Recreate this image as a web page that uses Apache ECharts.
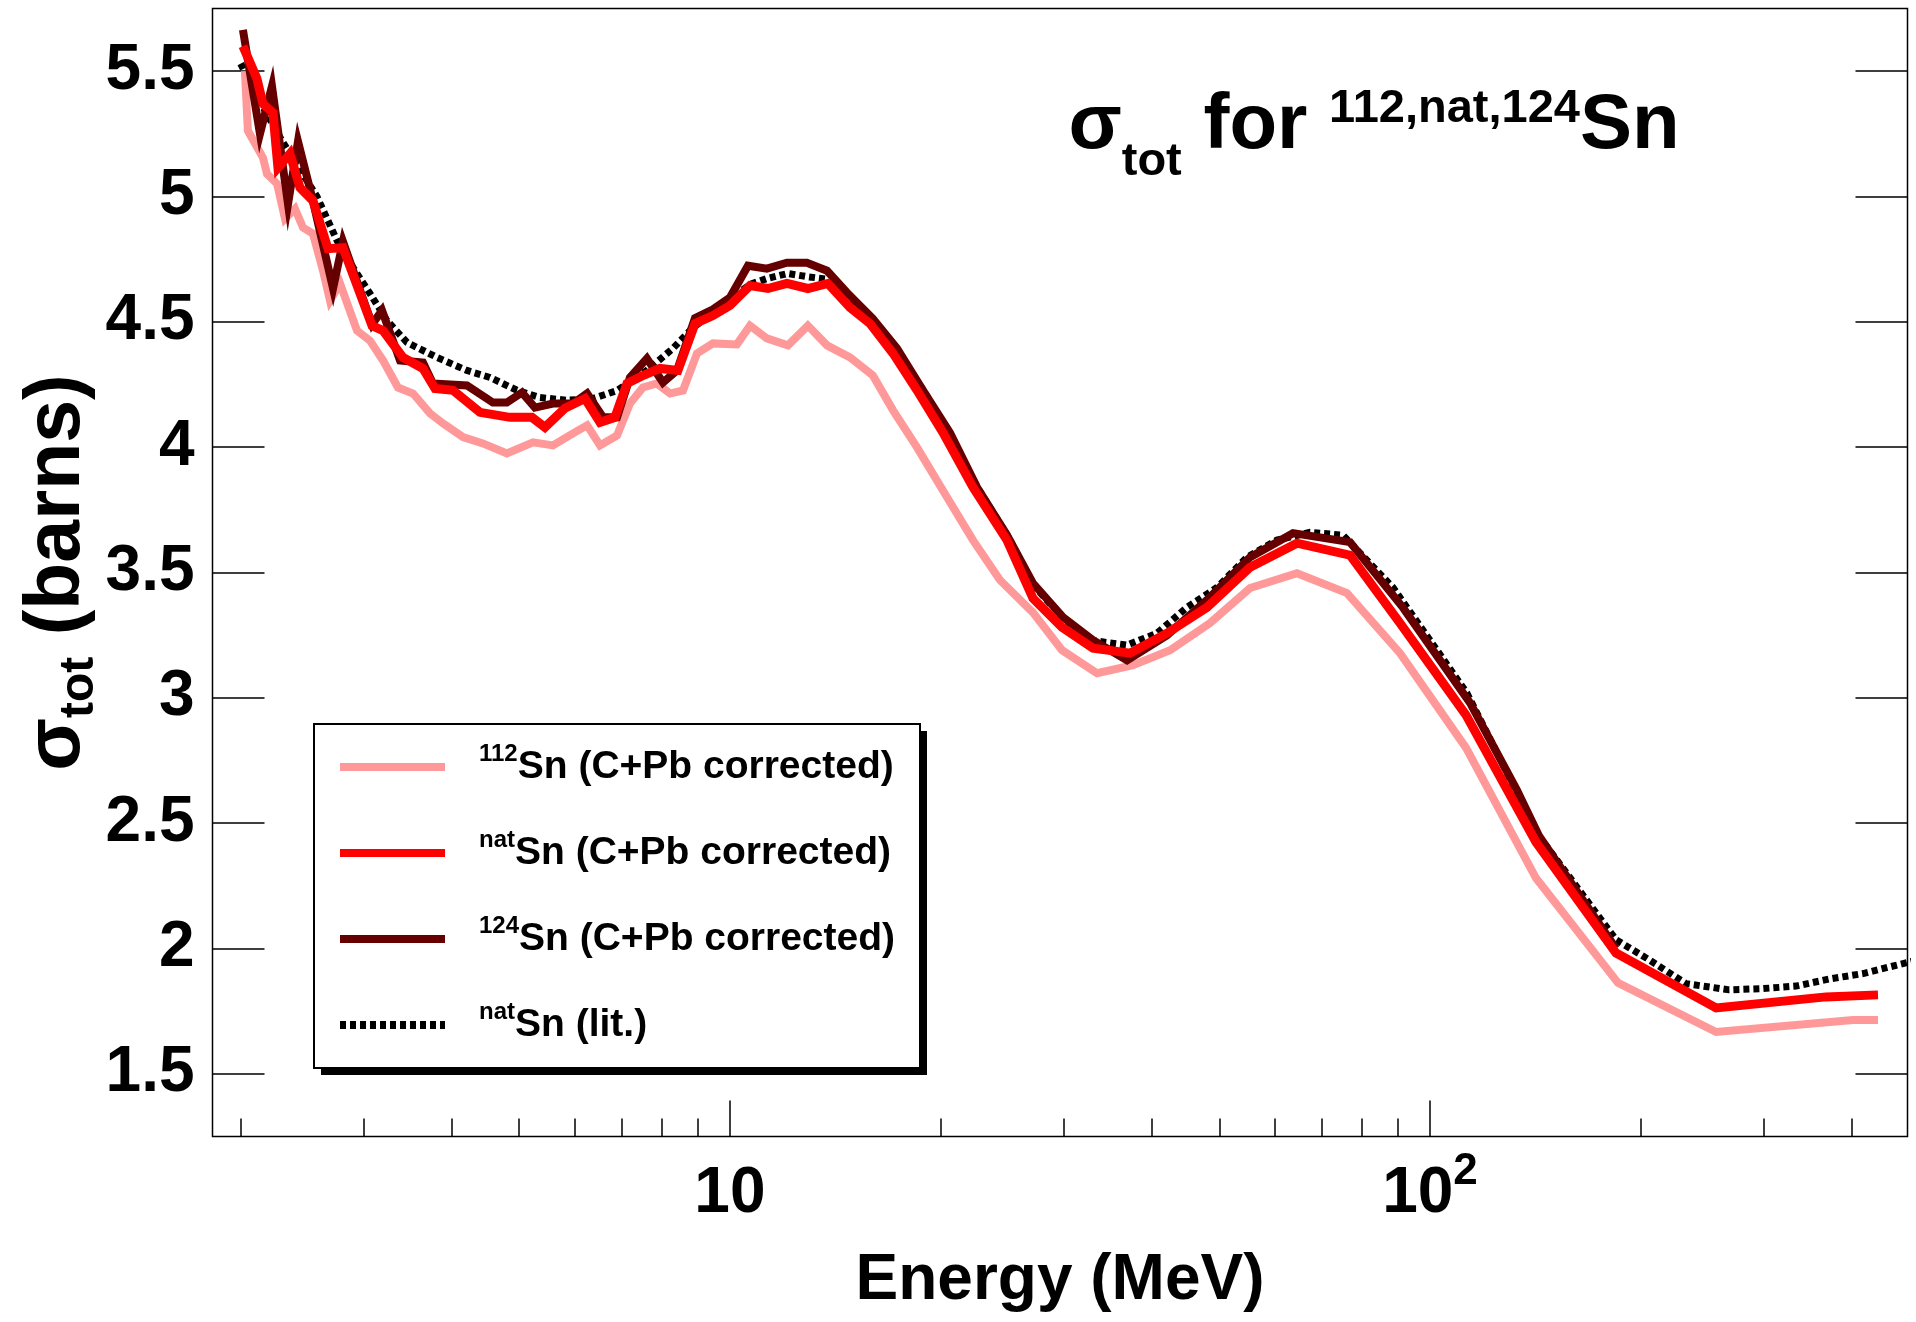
<!DOCTYPE html>
<html>
<head>
<meta charset="utf-8">
<script src="https://cdn.jsdelivr.net/npm/echarts@6/dist/echarts.min.js"></script>
<style>
  html, body { margin: 0; padding: 0; background: #fff; }
  #chart { width: 1916px; height: 1322px; }
</style>
</head>
<body>
<div id="chart"></div>
<script>
// ---------------- data ----------------
const X_MIN = 1.823, X_MAX = 481;
const Y_MIN = 1.25, Y_MAX = 5.75;
const xMajorTicks = [10, 100];
const xMinorTicks = [2, 3, 4, 5, 6, 7, 8, 9, 20, 30, 40, 50, 60, 70, 80, 90, 200, 300, 400];
const yTicks = [1.5, 2, 2.5, 3, 3.5, 4, 4.5, 5, 5.5];

// 112Sn (C+Pb corrected)
const E112 = [2.028,2.048,2.152,2.181,2.254,2.314,2.391,2.455,2.537,2.622,2.683,2.773,2.932,3.06,3.194,3.355,3.526,3.728,3.89,4.155,4.437,4.80,5.232,5.587,5.968,6.25,6.522,6.898,7.196,7.51,7.864,8.21,8.568,8.973,9.456,10.23,10.68,11.29,12.1,12.92,13.76,14.84,16.0,17.1,18.5,20.42,22.24,24.3,27.1,29.81,33.45,37.65,42.53,48.5,55.34,64.57,76.1,90.61,112.6,141.7,185.6,256.3,402.1,436.5];
const S112 = [5.50,5.262,5.155,5.09,5.051,4.911,4.951,4.876,4.852,4.704,4.585,4.653,4.465,4.425,4.346,4.238,4.214,4.135,4.095,4.04,4.015,3.975,4.019,4.007,4.055,4.087,4.007,4.047,4.174,4.238,4.254,4.214,4.226,4.374,4.414,4.41,4.485,4.434,4.406,4.485,4.406,4.358,4.286,4.147,3.999,3.80,3.629,3.47,3.34,3.19,3.098,3.13,3.19,3.298,3.438,3.497,3.418,3.178,2.80,2.281,1.863,1.667,1.715,1.715];

// natSn (C+Pb corrected)
const ENAT = [2.015,2.11,2.152,2.224,2.261,2.352,2.431,2.537,2.665,2.80,3.081,3.194,3.411,3.643,3.79,4.021,4.394,4.849,5.213,5.441,5.811,6.208,6.522,6.85,7.127,7.51,7.943,8.427,8.913,9.456,10.0,10.68,11.33,12.06,12.92,13.80,14.84,15.85,17.10,18.50,20.15,22.24,24.87,27.10,29.81,33.01,37.28,42.11,48.01,55.34,64.57,76.87,90.61,112.6,141.7,184.4,256.3,367.9,436.5];
const SNAT = [5.60,5.47,5.37,5.334,5.115,5.171,5.035,4.983,4.792,4.796,4.485,4.465,4.358,4.314,4.234,4.227,4.139,4.119,4.119,4.079,4.155,4.194,4.099,4.119,4.254,4.286,4.314,4.306,4.493,4.525,4.565,4.645,4.633,4.653,4.633,4.653,4.557,4.493,4.374,4.227,4.058,3.840,3.629,3.397,3.282,3.198,3.178,3.258,3.361,3.521,3.617,3.569,3.298,2.931,2.425,1.982,1.763,1.807,1.815];

// 124Sn (C+Pb corrected)
const E124 = [2.015,2.131,2.217,2.337,2.415,2.528,2.71,2.80,3.081,3.184,3.378,3.643,3.764,4.21,4.585,4.80,5.046,5.265,5.587,5.968,6.25,6.587,6.898,7.196,7.61,8.022,8.40,8.913,9.456,10.0,10.61,11.29,12.06,12.88,13.76,14.69,16.0,17.32,18.87,20.62,22.54,24.87,27.10,29.9,33.01,36.92,42.11,48.01,55.34,63.73,76.87,91.5,114.1,133.1,143.1,184.4];
const S124 = [5.665,5.25,5.44,4.97,5.22,5.0,4.633,4.82,4.49,4.545,4.346,4.338,4.254,4.246,4.178,4.178,4.218,4.158,4.174,4.174,4.214,4.119,4.119,4.278,4.354,4.258,4.306,4.515,4.55,4.597,4.724,4.712,4.736,4.736,4.704,4.617,4.513,4.394,4.227,4.058,3.84,3.65,3.457,3.322,3.23,3.15,3.25,3.39,3.561,3.657,3.621,3.36,2.98,2.632,2.45,2.0];

// natSn (lit.)
const ELIT = [2.0,2.1,2.291,2.57,2.746,2.894,3.06,3.236,3.456,3.815,4.21,4.541,4.962,5.353,5.85,6.373,6.898,7.61,8.29,8.853,9.456,10.0,10.7,11.3,12.1,12.9,13.8,14.7,16.0,17.3,18.9,20.6,22.5,25.0,27.1,29.9,32.68,36.92,40.74,44.97,49.62,54.79,60.44,67.4,75.1,88.55,100,112.9,143,184.4,205.6,232.1,267.4,299.1,333.4,371.5,415.6,474,500];
const SLIT = [5.53,5.41,5.222,5.0,4.824,4.717,4.613,4.505,4.418,4.358,4.306,4.278,4.227,4.198,4.187,4.194,4.226,4.306,4.394,4.477,4.533,4.59,4.65,4.673,4.693,4.68,4.67,4.61,4.51,4.39,4.225,4.055,3.845,3.64,3.45,3.32,3.23,3.21,3.258,3.361,3.44,3.561,3.629,3.66,3.649,3.44,3.23,3.019,2.45,2.035,1.955,1.86,1.835,1.84,1.85,1.878,1.90,1.94,1.955];

const seriesNames = ['112Sn (C+Pb corrected)', 'natSn (C+Pb corrected)', '124Sn (C+Pb corrected)', 'natSn (lit.)'];
const legendSup = ['112', 'nat', '124', 'nat'];
const legendMain = ['Sn (C+Pb corrected)', 'Sn (C+Pb corrected)', 'Sn (C+Pb corrected)', 'Sn (lit.)'];

// ---------------- chart ----------------
const FONT = '"Liberation Sans", Arial, Helvetica, sans-serif';
const zip = (xs, ys) => xs.map((x, i) => [x, ys[i]]);

const chart = echarts.init(document.getElementById('chart'), null, { renderer: 'canvas' });

const baseLine = (name, xs, ys, color, width, type, z) => ({
  name, type: 'line', data: zip(xs, ys),
  xAxisIndex: 0, yAxisIndex: 0,
  symbol: 'none', showSymbol: false, smooth: false, clip: true,
  lineStyle: { color, width, type, cap: 'butt', join: 'miter' },
  itemStyle: { color },
  emphasis: { disabled: true },
  z
});

const option = {
  animation: false,
  backgroundColor: '#ffffff',
  grid: {
    left: 212.5, right: 8.5, top: 8.5, bottom: 185.5,
    show: true, borderColor: '#000', borderWidth: 1.5,
    backgroundColor: 'rgba(0,0,0,0)', containLabel: false, outerBoundsMode: 'none'
  },
  xAxis: [
    {
      type: 'log', logBase: 10, min: X_MIN, max: X_MAX, position: 'bottom',
      axisLine: { show: false }, splitLine: { show: false }, minorTick: { show: false },
      axisTick: { show: true, inside: true, length: 36, customValues: xMajorTicks,
                  lineStyle: { color: '#000', width: 1.5 } },
      axisLabel: {
        show: true, customValues: xMajorTicks, margin: 26, color: '#000',
        formatter: v => (Math.round(Math.log10(v)) === 1 ? '{b|10}' : '{b|10}{s|' + Math.round(Math.log10(v)) + '}'),
        rich: {
          b: { fontFamily: FONT, fontWeight: 'bold', fontSize: 64, lineHeight: 64, color: '#000' },
          s: { fontFamily: FONT, fontWeight: 'bold', fontSize: 44, lineHeight: 44, color: '#000', padding: [0, 0, 46, 0] }
        }
      },
      name: 'Energy (MeV)', nameLocation: 'middle', nameGap: 113, nameMoveOverlap: false,
      nameTextStyle: { fontFamily: FONT, fontWeight: 'bold', fontSize: 64, color: '#000' }
    },
    {
      type: 'log', logBase: 10, min: X_MIN, max: X_MAX, position: 'bottom', offset: 0,
      axisLine: { show: false }, splitLine: { show: false },
      axisTick: { show: true, inside: true, length: 18, customValues: xMinorTicks,
                  lineStyle: { color: '#000', width: 1.5 } },
      axisLabel: { show: false }
    }
  ],
  yAxis: [
    {
      type: 'value', min: Y_MIN, max: Y_MAX, position: 'left',
      axisLine: { show: false }, splitLine: { show: false },
      axisTick: { show: true, inside: true, length: 52, customValues: yTicks,
                  lineStyle: { color: '#000', width: 1.5 } },
      axisLabel: {
        show: true, customValues: yTicks, margin: 18, color: '#000',
        fontFamily: FONT, fontWeight: 'bold', fontSize: 64,
        formatter: v => String(v)
      },
      name: '{m|σ}{sub|tot}{m| (barns)}',
      nameLocation: 'middle', nameRotate: 90, nameGap: 116, nameMoveOverlap: false,
      nameTextStyle: {
        fontFamily: FONT, fontWeight: 'bold', fontSize: 77, color: '#000',
        rich: {
          m: { fontFamily: FONT, fontWeight: 'bold', fontSize: 77, lineHeight: 77, color: '#000' },
          sub: { fontFamily: FONT, fontWeight: 'bold', fontSize: 48, lineHeight: 48, color: '#000', padding: [44, 0, 0, 0] }
        }
      }
    },
    {
      type: 'value', min: Y_MIN, max: Y_MAX, position: 'right',
      axisLine: { show: false }, splitLine: { show: false },
      axisTick: { show: true, inside: true, length: 52, customValues: yTicks,
                  lineStyle: { color: '#000', width: 1.5 } },
      axisLabel: { show: false }
    }
  ],
  legend: {
    show: true, orient: 'vertical', left: 314, top: 724, z: 20,
    data: seriesNames,
    itemWidth: 105, itemHeight: 8, itemGap: 36,
    padding: [18, 28, 18, 22],
    backgroundColor: 'rgba(0,0,0,0)', borderWidth: 0,
    itemStyle: { opacity: 0 },
    lineStyle: { width: 8 },
    selectedMode: false,
    formatter: name => {
      const i = seriesNames.indexOf(name);
      return '{sup|' + legendSup[i] + '}{main|' + legendMain[i] + '}';
    },
    textStyle: {
      color: '#000', fontFamily: FONT, fontWeight: 'bold', fontSize: 39,
      rich: {
        sup: { fontFamily: FONT, fontWeight: 'bold', fontSize: 24, lineHeight: 24, color: '#000', padding: [0, 0, 26, 29] },
        main: { fontFamily: FONT, fontWeight: 'bold', fontSize: 39, lineHeight: 39, color: '#000' }
      }
    }
  },
  graphic: [
    // legend box shadow and frame (decoration only)
    { type: 'rect', z: 10, shape: { x: 321, y: 731, width: 606, height: 344 },
      style: { fill: '#000', stroke: null } },
    { type: 'rect', z: 11, shape: { x: 314, y: 724, width: 606, height: 344 },
      style: { fill: '#fff', stroke: '#000', lineWidth: 2 } },
    {
      type: 'text', x: 1374, y: 126, z: 100,
      style: {
        text: '{m|σ}{sub|tot}{m| for }{sup|112,nat,124}{m|Sn}',
        align: 'center', verticalAlign: 'middle',
        fill: '#000',
        font: 'bold 78px ' + FONT,
        rich: {
          m: { fontFamily: FONT, fontWeight: 'bold', fontSize: 78, lineHeight: 78, fill: '#000' },
          sub: { fontFamily: FONT, fontWeight: 'bold', fontSize: 47, lineHeight: 47, fill: '#000', padding: [72, 0, 0, 0] },
          sup: { fontFamily: FONT, fontWeight: 'bold', fontSize: 47, lineHeight: 47, fill: '#000', padding: [0, 0, 34, 0] }
        }
      }
    }
  ],
  series: [
    baseLine(seriesNames[3], ELIT, SLIT, '#000000', 7, [6, 4], 2),
    baseLine(seriesNames[0], E112, S112, '#ff9999', 8, 'solid', 3),
    baseLine(seriesNames[2], E124, S124, '#660000', 8, 'solid', 4),
    baseLine(seriesNames[1], ENAT, SNAT, '#ff0000', 9, 'solid', 5)
  ]
};

chart.setOption(option);
</script>
</body>
</html>
